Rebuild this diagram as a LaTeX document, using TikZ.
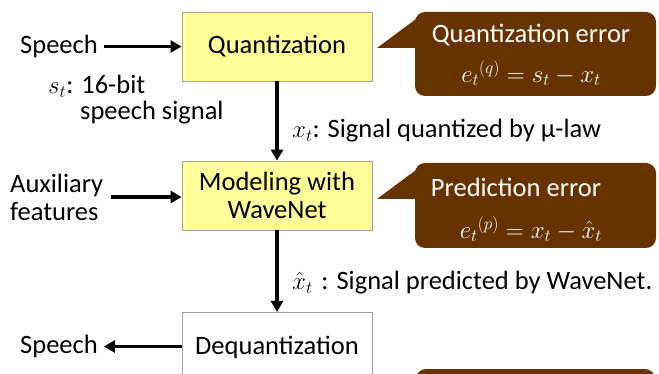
\documentclass[tikz,border=0pt]{standalone}
\usepackage{fontspec}
\setmainfont{Carlito}
\usetikzlibrary{arrows.meta}
\definecolor{boxyellow}{HTML}{FFFF99}
\definecolor{boxgray}{HTML}{A0A0A0}
\definecolor{callbrown}{HTML}{663300}
\tikzset{
  procbox/.style={draw=boxgray, line width=0.9pt, minimum width=190pt, inner sep=0pt},
  ylbox/.style={procbox, fill=boxyellow},
  arr/.style={line width=3.6pt, -{Triangle[length=11pt,width=12pt]}},
  lbl/.style={inner sep=0pt, text=black},
  calltext/.style={inner sep=0pt, text=white},
  callfill/.style={fill=callbrown, rounded corners=10pt},
  mathbig/.style={font=\fontsize{27}{30}\selectfont},
}
\begin{document}
\begin{tikzpicture}[x=1pt,y=-1pt,font=\fontsize{26.5}{29}\selectfont]
\useasboundingbox (0,0) rectangle (659,374);
\clip (0,0) rectangle (659,374);
\fill[white] (0,0) rectangle (659,374);

% process boxes
\node[ylbox, minimum height=69pt] (q) at (277,46.5) {Quantization};
\node[ylbox, minimum height=69pt, align=center] (m) at (277,195.5) {Modeling with\\[-1pt]WaveNet};
\node[procbox, fill=white, minimum height=80pt, anchor=north] (d) at (277,312) {};
\node[lbl] (dt) at (277,347) {Dequantization};

% left labels
\node[lbl, anchor=west] (sp1) at (20,46.5) {Speech};
\node[lbl, anchor=west] (st) at (48,86) {$s_t$: 16-bit};
\node[lbl, anchor=west] (ss) at (80,113) {speech signal};
\node[lbl, anchor=west, align=left] (aux) at (10,197) {Auxiliary\\[-1pt]features};
\node[lbl, anchor=west] (sp2) at (20,346.5) {Speech};
\coordinate (dw) at (182,346.5);

% signal labels
\node[lbl, anchor=west] (xl) at (292,131) {$x_t$: Signal quantized by \textmu-law};
\node[lbl, anchor=west] (xh) at (292,283) {$\hat{x}_t$\,\,: Signal predicted by WaveNet.};

% arrows
\draw[arr] ([xshift=6pt]sp1.east) -- (sp1.east -| q.west);
\draw[arr] ([xshift=8pt]aux.east) -- (aux.east -| m.west);
\draw[arr] (q.south) -- (m.north);
\draw[arr] (m.south) -- (d.north);
\draw[arr] (dw) -- ([xshift=6pt]sp2.east);

% callout 1
\fill[callbrown] (377,48) -- (418,48) -- (420,16) -- cycle;
\path[callfill] (415,12) rectangle (656,96);
\node[calltext] (c1a) at (531,35) {Quantization error};
\node[calltext, mathbig] (c1b) at (531,73) {$e_t{}^{(q)} = s_t - x_t$};

% callout 2
\fill[callbrown] (377,199) -- (418,199) -- (420,167) -- cycle;
\path[callfill] (415,163) rectangle (656,248);
\node[calltext] (c2a) at (516,187) {Prediction error};
\node[calltext, mathbig] (c2b) at (531,229) {$e_t{}^{(p)} = x_t - \hat{x}_t$};

% callout 3 (cut off)
\path[callfill] (416,369) rectangle (655,420);
\end{tikzpicture}
\end{document}
